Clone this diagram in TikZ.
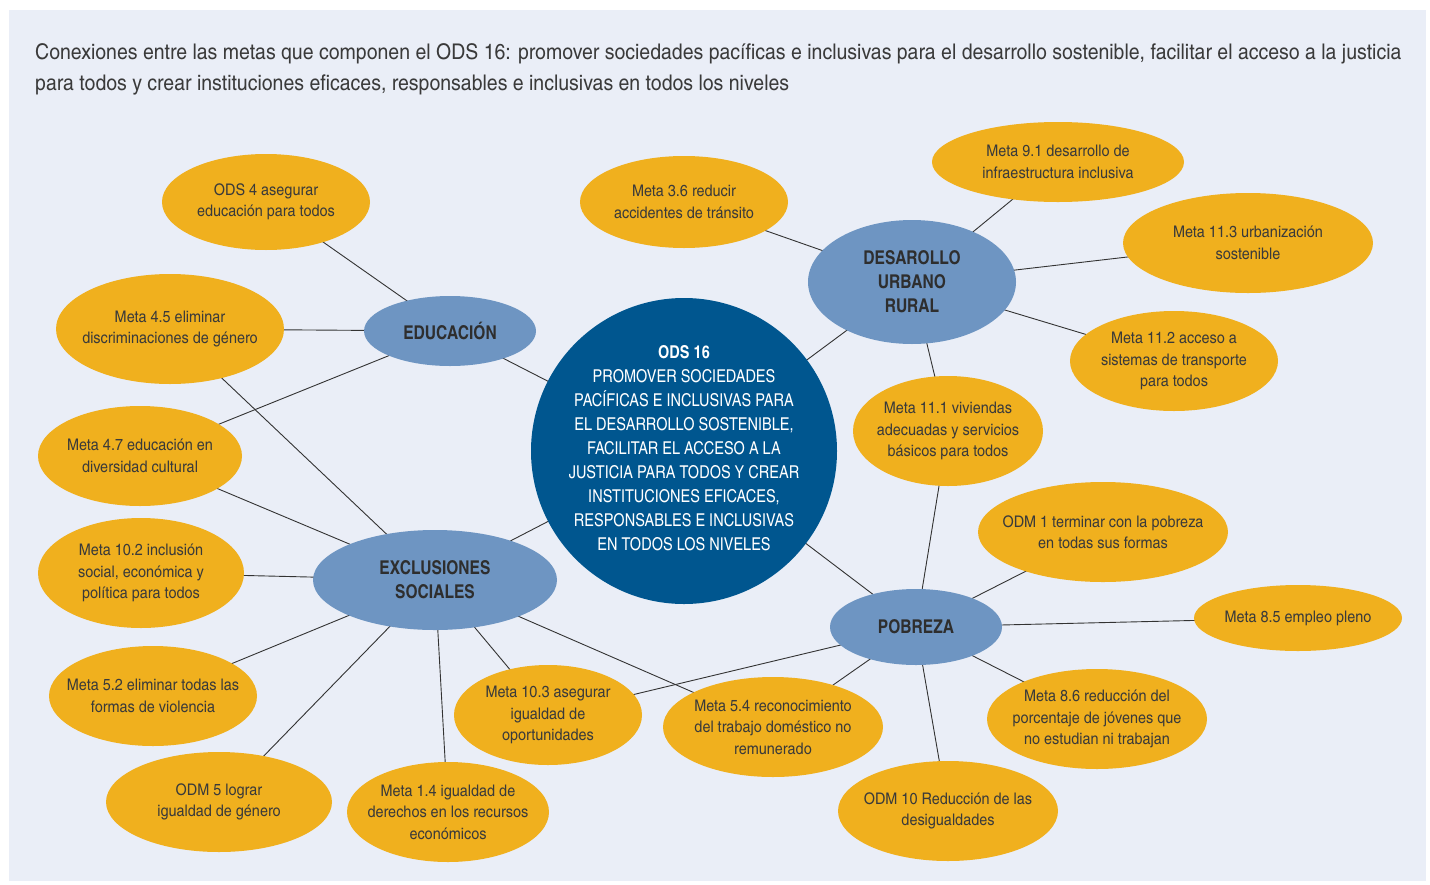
\documentclass[tikz,border=0pt]{standalone}
\usepackage{fontspec}
\setmainfont{texgyreheroscn}[Extension=.otf, UprightFont=*-regular, BoldFont=*-bold, ItalicFont=*-italic, BoldItalicFont=*-bolditalic]
\newfontfamily\widefont{texgyreheroscn}[Extension=.otf, UprightFont=*-regular, BoldFont=*-bold, FakeStretch=1.1]
\usetikzlibrary{shapes.geometric,backgrounds}
\definecolor{bgc}{HTML}{EAEEF7}
\definecolor{meta}{HTML}{F0B01E}
\definecolor{hub}{HTML}{6E95C2}
\definecolor{core}{HTML}{00568F}
\definecolor{txt}{HTML}{3A3A3A}
\definecolor{lnc}{HTML}{333333}
\begin{document}
\begin{tikzpicture}[x=1pt,y=-1pt,
  sz/.style 2 args={minimum width=#1pt, minimum height=#2pt},
  metabox/.style={ellipse, fill=meta, inner xsep=-40pt, inner ysep=-20pt, align=center, text=txt, font=\widefont\fontsize{16}{21.5}\selectfont},
  hubbox/.style={ellipse, fill=hub, inner sep=0pt, align=center, text=txt!80!black, font=\fontsize{19}{24}\selectfont\bfseries},
  corebox/.style={circle, fill=core, inner sep=0pt},
  coretext/.style={align=center, text=white, inner sep=0pt, font=\fontsize{17.7}{24}\selectfont},
  link/.style={draw=lnc, line width=0.9pt}]
\useasboundingbox (0,0) rectangle (1430,884);
% title
\node[anchor=north west, align=left, text=txt, font=\widefont\fontsize{21.6}{31.5}\selectfont, inner sep=0pt] (title) at (35,43)
 {Conexiones entre las metas que componen el ODS 16: promover sociedades pacíficas e inclusivas para el desarrollo sostenible, facilitar el acceso a la justicia\\para todos y crear instituciones eficaces, responsables e inclusivas en todos los niveles};
% core
\node[corebox, minimum size=306pt] (core) at (684,451) {};
\node[coretext] (coretxt) at (684,448) {\textbf{ODS 16}\\PROMOVER SOCIEDADES\\PACÍFICAS E INCLUSIVAS PARA\\EL DESARROLLO SOSTENIBLE,\\FACILITAR EL ACCESO A LA\\JUSTICIA PARA TODOS Y CREAR\\INSTITUCIONES EFICACES,\\RESPONSABLES E INCLUSIVAS\\EN TODOS LOS NIVELES};
% hubs
\node[hubbox, sz={172}{70}] (edu) at (450,331) {EDUCACIÓN};
\node[hubbox, sz={208}{124}] (des) at (912,282) {DESAROLLO\\URBANO\\RURAL};
\node[hubbox, sz={244}{100}] (exc) at (435,580) {EXCLUSIONES\\SOCIALES};
\node[hubbox, sz={172}{76}] (pob) at (916,627) {POBREZA};
% metas
\node[metabox, sz={208}{96}] (ods4) at (266,202) {ODS 4 asegurar\\educación para todos};
\node[metabox, sz={208}{92}] (m36) at (684,202) {Meta 3.6 reducir\\accidentes de tránsito};
\node[metabox, sz={252}{80}] (m91) at (1058,162) {Meta 9.1 desarrollo de\\infraestructura inclusiva};
\node[metabox, sz={250}{100}] (m113) at (1248,243) {Meta 11.3 urbanización\\sostenible};
\node[metabox, sz={228}{110}] (m45) at (170,329) {Meta 4.5 eliminar\\discriminaciones de género};
\node[metabox, sz={208}{100}] (m112) at (1174,361) {Meta 11.2 acceso a\\sistemas de transporte\\para todos};
\node[metabox, sz={190}{110}] (m111) at (948,431) {Meta 11.1 viviendas\\adecuadas y servicios\\básicos para todos};
\node[metabox, sz={204}{100}] (m47) at (140,456) {Meta 4.7 educación en\\diversidad cultural};
\node[metabox, sz={250}{100}] (odm1) at (1103,532) {ODM 1 terminar con la pobreza\\en todas sus formas};
\node[metabox, sz={206}{110}] (m102) at (141,573) {Meta 10.2 inclusión\\social, económica y\\política para todos};
\node[metabox, sz={208}{66}] (m85) at (1298,618) {Meta 8.5 empleo pleno};
\node[metabox, sz={208}{100}] (m52) at (153,696) {Meta 5.2 eliminar todas las\\formas de violencia};
\node[metabox, sz={188}{100}] (m103) at (548,715) {Meta 10.3 asegurar\\igualdad de\\oportunidades};
\node[metabox, sz={220}{100}] (m54) at (773,727) {Meta 5.4 reconocimiento\\del trabajo doméstico no\\remunerado};
\node[metabox, sz={220}{100}] (m86) at (1097,719) {Meta 8.6 reducción del\\porcentaje de jóvenes que\\no estudian ni trabajan};
\node[metabox, sz={226}{100}] (odm5) at (219,802) {ODM 5 lograr\\igualdad de género};
\node[metabox, sz={202}{100}] (m14) at (448,812) {Meta 1.4 igualdad de\\derechos en los recursos\\económicos};
\node[metabox, sz={220}{100}] (odm10) at (948,811) {ODM 10 Reducción de las\\desigualdades};
\begin{scope}[on background layer]
\fill[white] (0,0) rectangle (1430,884);
\fill[bgc] (9,10) rectangle (1426,881);
\draw[link] (core.center) -- (edu.center);
\draw[link] (core.center) -- (des.center);
\draw[link] (core.center) -- (exc.center);
\draw[link] (core.center) -- (pob.center);
\draw[link] (edu.center) -- (ods4.center);
\draw[link] (edu.center) -- (m45.center);
\draw[link] (edu.center) -- (m47.center);
\draw[link] (exc.center) -- (m45.center);
\draw[link] (exc.center) -- (m47.center);
\draw[link] (exc.center) -- (m102.center);
\draw[link] (exc.center) -- (m52.center);
\draw[link] (exc.center) -- (odm5.center);
\draw[link] (exc.center) -- (m14.center);
\draw[link] (exc.center) -- (m103.center);
\draw[link] (exc.center) -- (m54.center);
\draw[link] (des.center) -- (m36.center);
\draw[link] (des.center) -- (m91.center);
\draw[link] (des.center) -- (m113.center);
\draw[link] (des.center) -- (m112.center);
\draw[link] (des.center) -- (m111.center);
\draw[link] (pob.center) -- (m111.center);
\draw[link] (pob.center) -- (odm1.center);
\draw[link] (pob.center) -- (m85.center);
\draw[link] (pob.center) -- (m86.center);
\draw[link] (pob.center) -- (odm10.center);
\draw[link] (pob.center) -- (m54.center);
\draw[link] (pob.center) -- (m103.center);
\end{scope}
\end{tikzpicture}
\end{document}
